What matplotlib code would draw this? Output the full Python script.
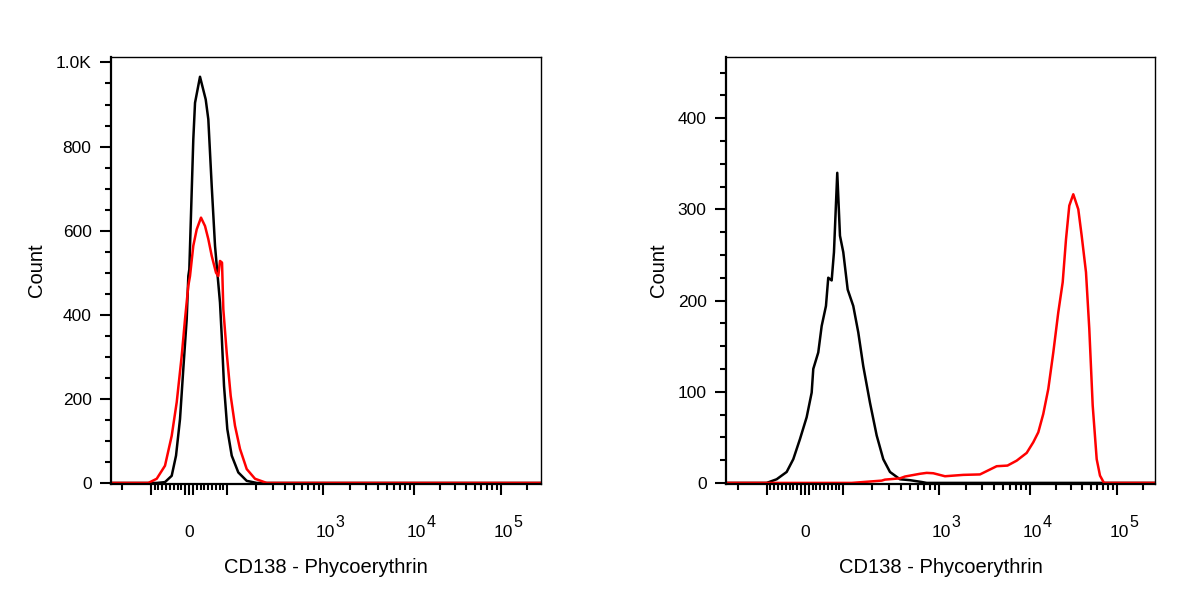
"""
CD138 流式直方图 - 两个 biex 坐标的叠加直方图 (黑: 对照, 红: 染色)
"""
import numpy as np
import matplotlib
matplotlib.use("Agg")
import matplotlib.pyplot as plt
from matplotlib.ticker import FixedLocator, NullFormatter

# ── 数据 (荧光强度, 计数) ──

# 左图
left_black_x = [-260, -84.3, -62.7, -45.2, -33.9, -23.5, -14.9, -6.0, -1.8, 0.8,
                11.2, 15.7, 28.7, 43.6, 50.4, 59.3, 67.9, 73.9, 80.9, 85.4,
                91.4, 100, 111.2, 130.3, 159.5, 202.9, 290000]
left_black_y = [0, 0, 2, 17, 65, 152, 271, 390, 492, 508,
                817, 904, 966, 912, 865, 706, 564, 501, 429, 350,
                231, 128, 65, 25, 5, 0, 0]

left_red_x = [-260, -105.9, -84.3, -62.7, -45.2, -32.1, -19.1, -10.4, -1.8, 2.6,
              11.2, 20.1, 31.3, 41.8, 50.4, 59.3, 70.5, 76.5, 80.9, 86.2,
              89.6, 98.4, 108.5, 120.3, 135.7, 159.5, 194.7, 258, 290000]
left_red_y = [0, 0, 10, 41, 112, 192, 302, 390, 469, 492,
              564, 603, 631, 611, 580, 540, 500, 492, 528, 524,
              413, 310, 207, 136, 81, 33, 10, 0, 0]

# 右图
right_black_x = [-266, -100, -73.9, -47.8, -30.5, -13.1, 4.4, 17.5, 21.7, 34.7,
                 43.6, 54.8, 60.8, 69.7, 75.7, 84.3, 91.4, 100, 111.2, 127.2,
                 143.5, 161.8, 190.1, 223.4, 261.8, 307.6, 391.2, 497.7, 659.6, 743.7,
                 276000]
right_black_y = [0, 0, 4, 12, 26, 48, 72, 99, 125, 143,
                 172, 194, 225, 222, 253, 340, 271, 253, 212, 194,
                 165, 128, 88, 52, 26, 12, 4, 3, 1, 0,
                 0]

right_red_x = [-266, 122.4, 251.9, 272.8, 391.2, 441.3, 633, 743.7, 871.8, 1164,
               1849, 2822, 4306, 5657, 7142, 9200, 10920, 12470, 14230, 16260,
               18570, 21200, 23840, 26020, 28400, 31580, 36070, 39470, 44250, 48300,
               52870, 58800, 64190, 71370, 276000]
right_red_y = [0, 0, 2.5, 3.6, 5, 7, 10, 11, 10.6, 7.3,
               8.8, 9.3, 18.3, 19, 24.4, 32.9, 44.6, 55.5, 75.6, 103,
               143, 187, 220, 267, 304, 316.5, 300, 271, 231, 169,
               85, 26, 8, 0, 0]

# x 刻度标签: 底数 + 指数 (原图指数与底数几乎同样大小)
x_tick_values = [0, 1e3, 1e4, 1e5]
x_tick_bases = ["0", "10", "10", "10"]
x_tick_exps = ["", "3", "4", "5"]
left_y_ticks = [0, 200, 400, 600, 800, 1000]
left_y_labels = ["0", "200", "400", "600", "800", "1.0K"]
right_y_ticks = [0, 100, 200, 300, 400]
right_y_labels = ["0", "100", "200", "300", "400"]

X_LABEL = "CD138 - Phycoerythrin"
Y_LABEL = "Count"

# biex 坐标: |x|<=100 线性, 之后按十倍程分段对数 (宽度取自原图)
LIN_END = 100.0
LIN_W = 38.3
DECADE_W = [95.7, 91.0, 86.7]   # 10^2-10^3, 10^3-10^4, 10^4 以上


def _biex_fwd(x):
    x = np.asarray(x, dtype=float)
    a = np.abs(x)
    lg = np.log10(np.maximum(a, LIN_END))
    p_log = (LIN_W
             + DECADE_W[0] * np.clip(lg - 2, 0, 1)
             + DECADE_W[1] * np.clip(lg - 3, 0, 1)
             + DECADE_W[2] * np.maximum(lg - 4, 0))
    p = np.where(a <= LIN_END, a / LIN_END * LIN_W, p_log)
    return np.sign(x) * p


def _biex_inv(p):
    p = np.asarray(p, dtype=float)
    a = np.abs(p)
    b1 = LIN_W + DECADE_W[0]
    b2 = b1 + DECADE_W[1]
    lin = a / LIN_W * LIN_END
    d2 = 2 + (np.clip(a, LIN_W, b1) - LIN_W) / DECADE_W[0]
    d3 = 3 + (np.clip(a, b1, b2) - b1) / DECADE_W[1]
    d4 = 4 + (np.clip(a, b2, 1e4) - b2) / DECADE_W[2]
    lg = np.where(a <= b1, d2, np.where(a <= b2, d3, d4))
    out = np.where(a <= LIN_W, lin, 10.0 ** np.minimum(lg, 30))
    return np.sign(p) * out


def _minor_x_ticks():
    ticks = [-200]
    ticks += list(range(-90, -10, 10)) + list(range(20, 100, 10))
    for dec in (100, 1000, 10000):
        ticks += [m * dec for m in range(2, 10)]
    ticks.append(200000)
    return ticks


plt.rcParams["font.family"] = ["Liberation Sans", "DejaVu Sans"]

fig = plt.figure(figsize=(12, 6), dpi=100)
W, H = 1200.0, 600.0
TICK_FS = 12.5


def _panel(px_left, px_right, xlim, ylim, yticks, ylabels, yminor, series):
    ax = fig.add_axes([px_left / W, (H - 484) / H, (px_right - px_left) / W, 427 / H])
    ax.set_xscale("function", functions=(_biex_fwd, _biex_inv))
    for xs, ys, color in series:
        ax.plot(xs, ys, color=color, linewidth=1.8, solid_joinstyle="round")
    ax.set_xlim(*xlim)
    ax.set_ylim(*ylim)

    # x 轴刻度
    ax.xaxis.set_major_locator(FixedLocator([-100, -10, 0, 10, 100, 1e3, 1e4, 1e5]))
    ax.xaxis.set_minor_locator(FixedLocator(_minor_x_ticks()))
    ax.xaxis.set_major_formatter(NullFormatter())
    ax.xaxis.set_minor_formatter(NullFormatter())
    xtr = ax.get_xaxis_transform()
    for xv, base, ex in zip(x_tick_values, x_tick_bases, x_tick_exps):
        if not ex:
            ax.text(xv, -0.124, base, transform=xtr, ha="center", va="baseline",
                    fontsize=TICK_FS)
            continue
        ax.annotate(base, (xv, -0.124), xycoords=xtr, xytext=(2, 0),
                    textcoords="offset points", ha="center", va="baseline",
                    fontsize=TICK_FS)
        ax.annotate(ex, (xv, -0.124), xycoords=xtr, xytext=(9, 7.5),
                    textcoords="offset points", ha="left", va="baseline",
                    fontsize=TICK_FS - 1)

    # y 轴刻度
    ax.set_yticks(yticks)
    ax.set_yticklabels(ylabels)
    ax.yaxis.set_minor_locator(FixedLocator(yminor))

    ax.tick_params(which="major", direction="out", length=8, width=1.5,
                   labelsize=TICK_FS, color="black")
    ax.tick_params(which="minor", direction="out", length=4, width=1.5, color="black")
    ax.tick_params(axis="y", which="major", pad=6)
    ax.tick_params(top=False, right=False)

    for side in ("left", "bottom"):
        ax.spines[side].set_linewidth(1.6)
    for side in ("top", "right"):
        ax.spines[side].set_linewidth(1.0)

    ax.set_xlabel(X_LABEL, fontsize=14.5)
    ax.set_ylabel(Y_LABEL, fontsize=14.5)
    ax.xaxis.set_label_coords(0.5, -0.173)
    return ax


ax1 = _panel(111, 541, (-260, 291600), (-2.5, 1013),
             left_y_ticks, left_y_labels, list(range(50, 1001, 50)),
             [(left_black_x, left_black_y, "black"), (left_red_x, left_red_y, "#ff0000")])
ax1.yaxis.set_label_coords(-0.152, 0.5)

ax2 = _panel(726, 1155, (-266, 276600), (-1.2, 467),
             right_y_ticks, right_y_labels, list(range(25, 466, 25)),
             [(right_black_x, right_black_y, "black"), (right_red_x, right_red_y, "#ff0000")])
ax2.yaxis.set_label_coords(-0.136, 0.5)

fig.savefig("out.png", dpi=100, facecolor="white")
